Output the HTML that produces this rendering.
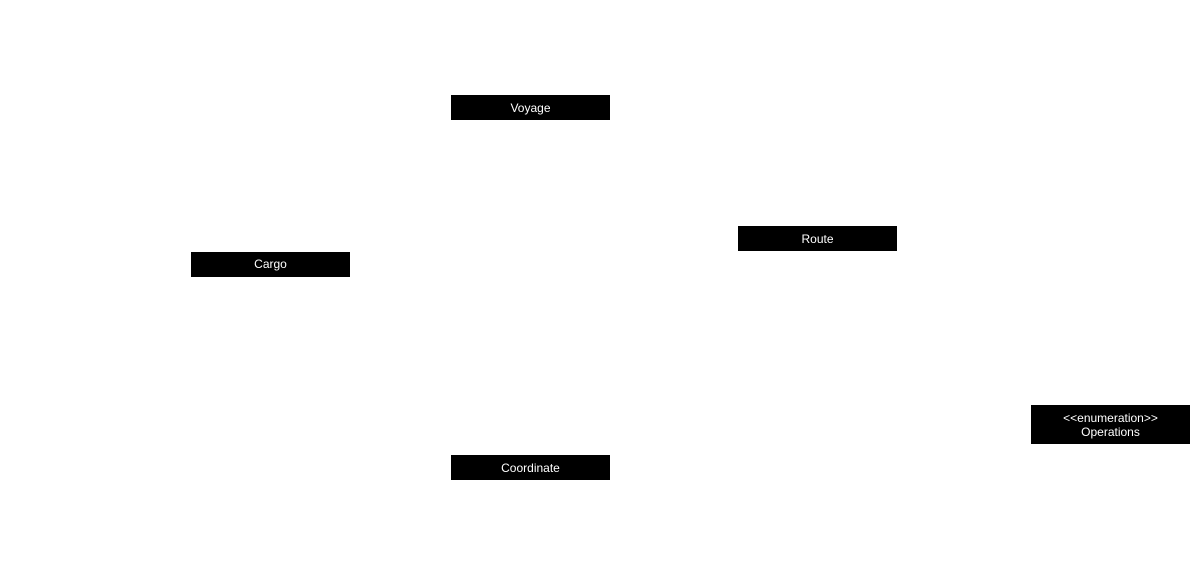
<!DOCTYPE html>
<html><head><style>
body{margin:0;width:1191px;height:565px;background:#fff;position:relative;overflow:hidden;font-family:"Liberation Sans",sans-serif;}
.b{position:absolute;background:#000;color:#fff;font-size:12px;text-align:center;display:flex;flex-direction:column;justify-content:center;line-height:14px;}
</style></head><body>
<div class="b" style="left:451px;top:95px;width:159px;height:25px">Voyage</div>
<div class="b" style="left:738px;top:226px;width:159px;height:25px">Route</div>
<div class="b" style="left:191px;top:251.5px;width:159px;height:25px">Cargo</div>
<div class="b" style="left:1031px;top:405px;width:159px;height:39px">&lt;&lt;enumeration&gt;&gt;<br>Operations</div>
<div class="b" style="left:451px;top:455px;width:159px;height:25px">Coordinate</div>
</body></html>
